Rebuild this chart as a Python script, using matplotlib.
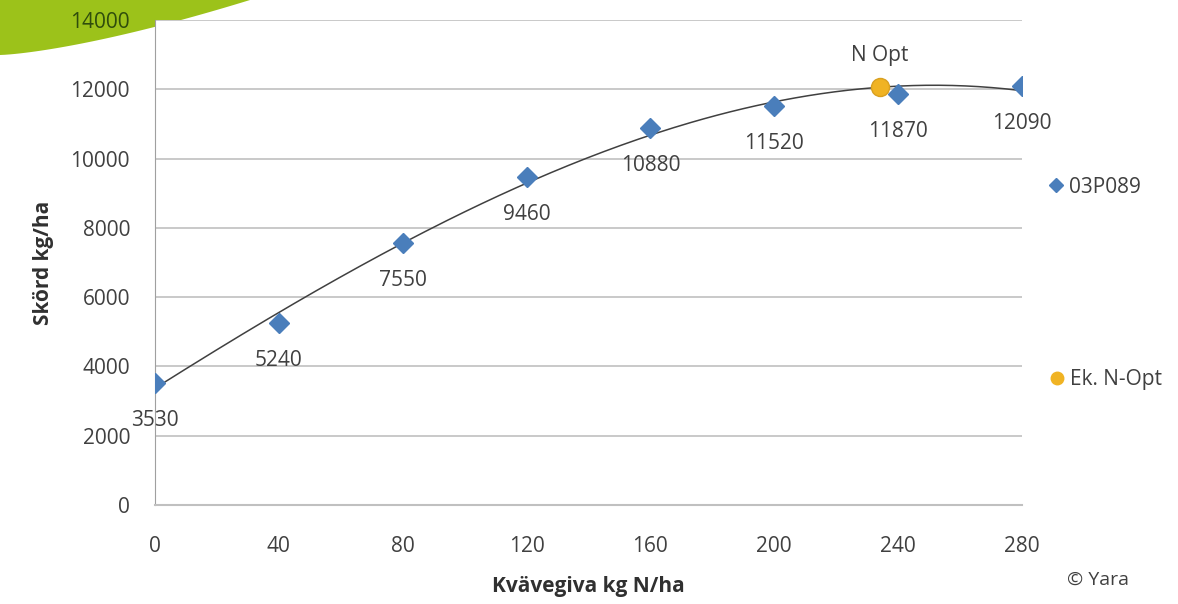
import numpy as np
import matplotlib.pyplot as plt
from matplotlib.patches import Polygon
from matplotlib.lines import Line2D

# data
kvave = [0, 40, 80, 120, 160, 200, 240, 280]
skord = [3530, 5240, 7550, 9460, 10880, 11520, 11870, 12090]
nopt_x = [234]
nopt_y = [12060]
xticks = [0, 40, 80, 120, 160, 200, 240, 280]
yticks = [0, 2000, 4000, 6000, 8000, 10000, 12000, 14000]

plt.rcParams['font.family'] = ['Open Sans', 'DejaVu Sans']

fig = plt.figure(figsize=(11.78, 6.04), dpi=100)
ax = fig.add_axes([155/1178, 99/604, 867/1178, 485/604])

# green swoosh top left (figure pixels)
xs = np.linspace(0, 250, 50)
ys = 604 - 55 * (1 - (xs/250)**1.4)
pts = [(0, 604)] + [(x, y) for x, y in zip(xs, ys)] + [(250, 604)]
fig.patches.append(Polygon(pts, closed=True, transform=None, facecolor='#9cc21a',
                           edgecolor='none', zorder=-1))

# trend line (polynomial fit)
c = np.polyfit(kvave, skord, 3)
xx = np.linspace(0, 280, 200)
ax.plot(xx, np.polyval(c, xx), color='#404040', lw=1.1, zorder=3)

ax.plot(kvave, skord, 'D', color='#4a7ebb', ms=10, zorder=4)
ax.plot(nopt_x, nopt_y, 'o', color='#f0b323', mec='#d9a020', ms=13, zorder=5)

for x, y in zip(kvave, skord):
    ax.annotate(str(y), (x, y), xytext=(0, -27), textcoords='offset points',
                ha='center', va='center', fontsize=15, color='#404040')
ax.annotate('N Opt', (nopt_x[0], nopt_y[0]), xytext=(0, 23), textcoords='offset points',
            ha='center', va='center', fontsize=15, color='#404040')

ax.set_xlim(0, 280)
ax.set_ylim(0, 14000)
ax.set_xticks(xticks)
ax.set_yticks(yticks)
ax.yaxis.grid(True, color='#c0c0c0', lw=1.2)
ax.set_axisbelow(True)
for s in ['top', 'right']:
    ax.spines[s].set_visible(False)
ax.spines['left'].set_color('#a0a0a0')
ax.spines['bottom'].set_color('#c0c0c0')
ax.spines['bottom'].set_linewidth(1.5)
ax.tick_params(length=0, labelsize=15, labelcolor='#404040')
ax.tick_params(axis='y', pad=18)
ax.tick_params(axis='x', pad=22)
ax.get_yticklabels()[-1].set_color('#2f4d0c')

ax.set_xlabel('Kvävegiva kg N/ha', fontsize=15, fontweight='bold', color='#303030', labelpad=14)
ax.set_ylabel('Skörd kg/ha', fontsize=15, fontweight='bold', color='#303030', labelpad=12)

h1 = Line2D([], [], marker='D', color='#4a7ebb', ls='none', ms=7)
h2 = Line2D([], [], marker='o', color='#f0b323', ls='none', ms=9)
leg1 = fig.legend([h1], ['03P089'], loc='center left', bbox_to_anchor=(1027/1178, 1 - 187/604),
                  frameon=False, fontsize=15, handletextpad=0.1, handlelength=1)
leg2 = fig.legend([h2], ['Ek. N-Opt'], loc='center left', bbox_to_anchor=(1028/1178, 1 - 380/604),
                  frameon=False, fontsize=15, handletextpad=0.1, handlelength=1)
for lg in (leg1, leg2):
    for t in lg.get_texts():
        t.set_color('#404040')

fig.text(1098/1178, 1 - 580/604, '© Yara', ha='center', va='center', fontsize=14, color='#404040')

fig.savefig('out.png', dpi=100)
